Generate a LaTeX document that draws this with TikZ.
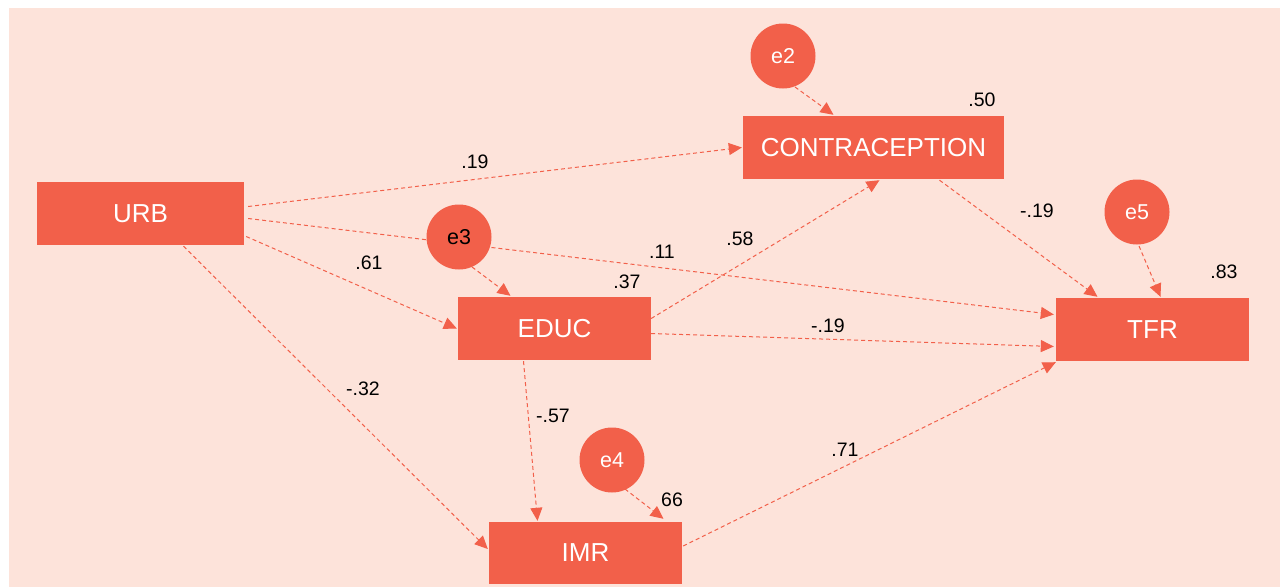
\documentclass[tikz,border=0pt]{standalone}
\usepackage{fontspec}
\setmainfont{Liberation Sans}
\usetikzlibrary{arrows.meta,calc}
\definecolor{bgpink}{HTML}{FDE3DA}
\definecolor{coral}{HTML}{F2604A}
\begin{document}
\begin{tikzpicture}[x=1pt,y=-1pt,
  varbox/.style={fill=coral,draw=none,text=white,minimum height=63pt,
    inner sep=0pt,font=\fontsize{26}{29}\selectfont},
  errc/.style={circle,fill=coral,draw=none,text=white,minimum size=65pt,
    inner sep=0pt,font=\fontsize{21.5}{24}\selectfont},
  path/.style={draw=coral,line width=1pt,dash pattern=on 4pt off 3pt,
    -{Triangle[length=13pt,width=12pt,fill=coral]}},
  coef/.style={font=\fontsize{19.5}{22}\selectfont,text=black,inner sep=0pt}]
  \useasboundingbox (0,0) rectangle (1280,587);
  \fill[bgpink] (9,8) rectangle (1280,587);

  % observed variables
  \node[varbox,minimum width=207pt] (urb) at (140.5,213.5) {URB};
  \node[varbox,minimum width=261pt] (contra) at (873.5,147.5) {CONTRACEPTION};
  \node[varbox,minimum width=193pt] (educ) at (554.5,328.5) {EDUC};
  \node[varbox,minimum width=193pt] (tfr) at (1152.5,329.5) {TFR};
  \node[varbox,minimum width=193pt,minimum height=62pt] (imr) at (585.5,553) {IMR};

  % structural paths (drawn before the error terms so circles sit on top)
  \draw[path] ($(urb.east)+(4,-7)$) -- ($(contra.west)+(-1,0)$);
  \draw[path] ($(urb.east)+(4,5)$) -- ($(tfr.west)+(-2,-15)$);
  \draw[path] ($(urb.east)+(2,23)$) -- ($(educ.west)+(-1,0)$);
  \draw[path] ($(urb.south)+(43,1)$) -- ($(imr.west)+(-1,-4)$);
  \draw[path] ($(educ.east)+(0,-10)$) -- ($(contra.south)+(6,1)$);
  \draw[path] ($(educ.east)+(0,5)$) -- ($(tfr.west)+(-2,17)$);
  \draw[path] ($(educ.south)+(-31,1)$) -- ($(imr.north)+(-48,-1)$);
  \draw[path] ($(contra.south)+(66,1)$) -- ($(tfr.north)+(-55,-1)$);
  \draw[path] ($(imr.east)+(1,-7)$) -- ($(tfr.south west)+(0,1)$);

  % error terms
  \node[errc] (e2) at (783,56) {e2};
  \node[errc,text=black] (e3) at (459,237) {e3};
  \node[errc] (e4) at (612,460) {e4};
  \node[errc] (e5) at (1137,212) {e5};

  \draw[path] ($(e2.center)+(12,31)$) -- ($(contra.north)+(-40,-1)$);
  \draw[path] ($(e3.center)+(13,30)$) -- ($(educ.north)+(-44,-1)$);
  \draw[path] ($(e4.center)+(13,29)$) -- ($(imr.north)+(78,-3)$);
  \draw[path] ($(e5.center)+(2,34)$) -- ($(tfr.north)+(8,-1)$);

  % path coefficients and explained variances
  \node[coef] (l50) at (982,100) {.50};
  \node[coef] (l19a) at (475,162) {.19};
  \node[coef] (l19b) at (1037,211) {-.19};
  \node[coef] (l83) at (1224,272) {.83};
  \node[coef] (l61) at (369,263) {.61};
  \node[coef] (l11) at (662,252) {.11};
  \node[coef] (l58) at (740,239) {.58};
  \node[coef] (l37) at (627,282) {.37};
  \node[coef] (l19c) at (828,326) {-.19};
  \node[coef] (l32) at (363,389) {-.32};
  \node[coef] (l57) at (553,416) {-.57};
  \node[coef] (l71) at (845,450) {.71};
  \node[coef] (l66) at (672,500) {66};
\end{tikzpicture}
\end{document}
